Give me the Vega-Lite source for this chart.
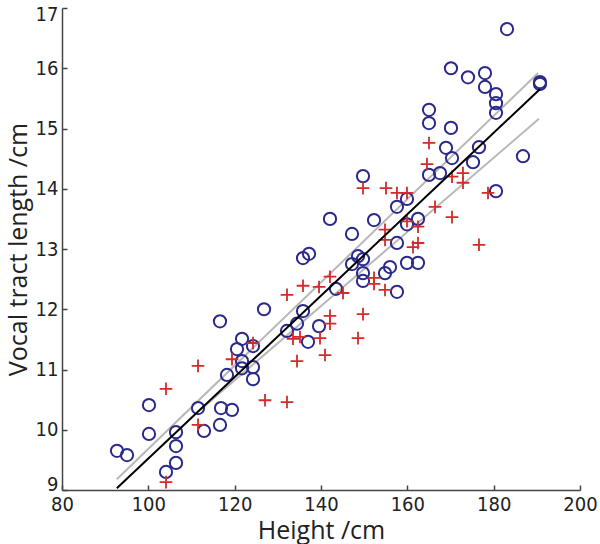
{
  "$schema": "https://vega.github.io/schema/vega-lite/v6.json",
  "width": 518,
  "height": 482,
  "autosize": {"type": "none"},
  "padding": {"left": 62, "top": 8, "right": 20, "bottom": 54},
  "background": "white",
  "config": {
    "view": {"stroke": null},
    "axis": {
      "grid": false,
      "domainColor": "#444",
      "domainWidth": 1.5,
      "tickColor": "#444",
      "tickWidth": 1.5,
      "labelFont": "Liberation Sans Narrow, DejaVu Sans Condensed, Open Sans",
      "labelFontSize": 20,
      "labelColor": "#222",
      "titleFont": "Open Sans",
      "titleFontSize": 25,
      "titleFontWeight": "normal",
      "titleColor": "#222",
      "labelFlush": false
    }
  },
  "datasets": {
    "pts": [
      {"h": 92.74, "v": 9.65, "g": "circle"},
      {"h": 95.06, "v": 9.58, "g": "circle"},
      {"h": 100.15, "v": 10.41, "g": "circle"},
      {"h": 100.15, "v": 9.93, "g": "circle"},
      {"h": 104.09, "v": 9.30, "g": "circle"},
      {"h": 106.41, "v": 9.45, "g": "circle"},
      {"h": 106.41, "v": 9.73, "g": "circle"},
      {"h": 106.41, "v": 9.96, "g": "circle"},
      {"h": 111.51, "v": 10.36, "g": "circle"},
      {"h": 112.90, "v": 9.98, "g": "circle"},
      {"h": 116.60, "v": 11.80, "g": "circle"},
      {"h": 116.60, "v": 10.08, "g": "circle"},
      {"h": 116.83, "v": 10.36, "g": "circle"},
      {"h": 119.38, "v": 10.33, "g": "circle"},
      {"h": 121.70, "v": 11.51, "g": "circle"},
      {"h": 120.54, "v": 11.34, "g": "circle"},
      {"h": 124.25, "v": 11.39, "g": "circle"},
      {"h": 121.70, "v": 11.14, "g": "circle"},
      {"h": 118.22, "v": 10.91, "g": "circle"},
      {"h": 121.70, "v": 11.02, "g": "circle"},
      {"h": 124.25, "v": 11.04, "g": "circle"},
      {"h": 124.25, "v": 10.84, "g": "circle"},
      {"h": 126.80, "v": 12.00, "g": "circle"},
      {"h": 135.83, "v": 11.97, "g": "circle"},
      {"h": 134.44, "v": 11.76, "g": "circle"},
      {"h": 132.12, "v": 11.64, "g": "circle"},
      {"h": 139.54, "v": 11.72, "g": "circle"},
      {"h": 136.99, "v": 11.46, "g": "circle"},
      {"h": 135.83, "v": 12.85, "g": "circle"},
      {"h": 137.22, "v": 12.92, "g": "circle"},
      {"h": 148.57, "v": 12.88, "g": "circle"},
      {"h": 147.18, "v": 12.75, "g": "circle"},
      {"h": 149.73, "v": 12.83, "g": "circle"},
      {"h": 149.73, "v": 12.60, "g": "circle"},
      {"h": 149.73, "v": 12.47, "g": "circle"},
      {"h": 154.83, "v": 12.60, "g": "circle"},
      {"h": 155.98, "v": 12.70, "g": "circle"},
      {"h": 159.92, "v": 12.77, "g": "circle"},
      {"h": 162.47, "v": 12.77, "g": "circle"},
      {"h": 143.47, "v": 12.34, "g": "circle"},
      {"h": 157.60, "v": 12.29, "g": "circle"},
      {"h": 142.08, "v": 13.50, "g": "circle"},
      {"h": 147.18, "v": 13.25, "g": "circle"},
      {"h": 149.73, "v": 14.21, "g": "circle"},
      {"h": 152.28, "v": 13.48, "g": "circle"},
      {"h": 157.60, "v": 13.70, "g": "circle"},
      {"h": 159.92, "v": 13.83, "g": "circle"},
      {"h": 159.92, "v": 13.41, "g": "circle"},
      {"h": 162.47, "v": 13.50, "g": "circle"},
      {"h": 157.60, "v": 13.10, "g": "circle"},
      {"h": 165.02, "v": 14.23, "g": "circle"},
      {"h": 167.57, "v": 14.26, "g": "circle"},
      {"h": 165.02, "v": 15.09, "g": "circle"},
      {"h": 165.02, "v": 15.31, "g": "circle"},
      {"h": 170.11, "v": 15.01, "g": "circle"},
      {"h": 168.96, "v": 14.68, "g": "circle"},
      {"h": 170.35, "v": 14.51, "g": "circle"},
      {"h": 176.60, "v": 14.69, "g": "circle"},
      {"h": 175.21, "v": 14.44, "g": "circle"},
      {"h": 186.79, "v": 14.54, "g": "circle"},
      {"h": 180.54, "v": 13.96, "g": "circle"},
      {"h": 170.11, "v": 16.00, "g": "circle"},
      {"h": 174.05, "v": 15.85, "g": "circle"},
      {"h": 177.99, "v": 15.92, "g": "circle"},
      {"h": 177.99, "v": 15.69, "g": "circle"},
      {"h": 180.54, "v": 15.57, "g": "circle"},
      {"h": 180.54, "v": 15.42, "g": "circle"},
      {"h": 180.54, "v": 15.26, "g": "circle"},
      {"h": 190.73, "v": 15.77, "g": "circle"},
      {"h": 190.73, "v": 15.74, "g": "circle"},
      {"h": 183.09, "v": 16.65, "g": "circle"},
      {"h": 104.09, "v": 10.68, "g": "cross"},
      {"h": 111.51, "v": 11.06, "g": "cross"},
      {"h": 119.38, "v": 11.17, "g": "cross"},
      {"h": 124.25, "v": 11.44, "g": "cross"},
      {"h": 111.51, "v": 10.08, "g": "cross"},
      {"h": 104.09, "v": 9.13, "g": "cross"},
      {"h": 127.03, "v": 10.49, "g": "cross"},
      {"h": 132.12, "v": 10.46, "g": "cross"},
      {"h": 132.12, "v": 12.24, "g": "cross"},
      {"h": 135.83, "v": 12.39, "g": "cross"},
      {"h": 139.54, "v": 12.37, "g": "cross"},
      {"h": 142.08, "v": 12.54, "g": "cross"},
      {"h": 145.10, "v": 12.27, "g": "cross"},
      {"h": 142.08, "v": 11.89, "g": "cross"},
      {"h": 142.08, "v": 11.76, "g": "cross"},
      {"h": 139.77, "v": 11.52, "g": "cross"},
      {"h": 135.13, "v": 11.54, "g": "cross"},
      {"h": 133.51, "v": 11.51, "g": "cross"},
      {"h": 140.93, "v": 11.24, "g": "cross"},
      {"h": 134.44, "v": 11.14, "g": "cross"},
      {"h": 148.57, "v": 11.52, "g": "cross"},
      {"h": 149.73, "v": 11.92, "g": "cross"},
      {"h": 152.28, "v": 12.52, "g": "cross"},
      {"h": 152.28, "v": 12.42, "g": "cross"},
      {"h": 154.83, "v": 12.32, "g": "cross"},
      {"h": 149.73, "v": 14.01, "g": "cross"},
      {"h": 155.06, "v": 14.01, "g": "cross"},
      {"h": 157.60, "v": 13.93, "g": "cross"},
      {"h": 159.92, "v": 13.93, "g": "cross"},
      {"h": 159.92, "v": 13.46, "g": "cross"},
      {"h": 154.83, "v": 13.32, "g": "cross"},
      {"h": 154.83, "v": 13.15, "g": "cross"},
      {"h": 162.47, "v": 13.37, "g": "cross"},
      {"h": 162.47, "v": 13.10, "g": "cross"},
      {"h": 161.31, "v": 13.03, "g": "cross"},
      {"h": 165.02, "v": 14.76, "g": "cross"},
      {"h": 164.55, "v": 14.41, "g": "cross"},
      {"h": 172.89, "v": 14.26, "g": "cross"},
      {"h": 170.35, "v": 14.20, "g": "cross"},
      {"h": 172.89, "v": 14.10, "g": "cross"},
      {"h": 178.69, "v": 13.93, "g": "cross"},
      {"h": 166.41, "v": 13.70, "g": "cross"},
      {"h": 170.35, "v": 13.53, "g": "cross"},
      {"h": 176.60, "v": 13.07, "g": "cross"}
    ],
    "lines": [
      {"h": 92.7, "v": 9.18, "line": "upper"},
      {"h": 190.3, "v": 15.92, "line": "upper"},
      {"h": 112.0, "v": 10.33, "line": "lower"},
      {"h": 190.5, "v": 15.16, "line": "lower"},
      {"h": 92.7, "v": 9.03, "line": "fit"},
      {"h": 190.7, "v": 15.65, "line": "fit"}
    ]
  },
  "layer": [
    {
      "data": {"name": "lines"},
      "transform": [{"filter": "datum.line !== 'fit'"}],
      "mark": {"type": "line", "color": "#b8b8b8", "strokeWidth": 2},
      "encoding": {
        "x": {"field": "h", "type": "quantitative", "scale": {"domain": [80, 200], "nice": false},
          "axis": {"title": "Height /cm", "values": [80, 100, 120, 140, 160, 180, 200], "format": "d", "tickSize": -5, "labelPadding": 9, "titlePadding": 4}},
        "y": {"field": "v", "type": "quantitative", "scale": {"domain": [9, 17], "nice": false, "zero": false},
          "axis": {"title": "Vocal tract length /cm", "values": [9, 10, 11, 12, 13, 14, 15, 16, 17], "format": "d", "tickSize": -5, "labelPadding": 9, "titlePadding": 4, "labelFlush": true, "labelFlushOffset": 4}},
        "detail": {"field": "line", "type": "nominal"}
      }
    },
    {
      "data": {"name": "pts"},
      "transform": [{"filter": "datum.g === 'circle'"}],
      "mark": {"type": "point", "shape": "circle", "filled": false, "stroke": "#2b2a8c", "strokeWidth": 2, "size": 150, "opacity": 1},
      "encoding": {
        "x": {"field": "h", "type": "quantitative"},
        "y": {"field": "v", "type": "quantitative"}
      }
    },
    {
      "data": {"name": "pts"},
      "transform": [{"filter": "datum.g === 'cross'"}],
      "mark": {"type": "point", "shape": "M-1,0L1,0M0,-1L0,1", "filled": false, "stroke": "#d42a2a", "strokeWidth": 1.8, "size": 160, "opacity": 1},
      "encoding": {
        "x": {"field": "h", "type": "quantitative"},
        "y": {"field": "v", "type": "quantitative"}
      }
    },
    {
      "data": {"name": "lines"},
      "transform": [{"filter": "datum.line === 'fit'"}],
      "mark": {"type": "line", "color": "#000000", "strokeWidth": 2},
      "encoding": {
        "x": {"field": "h", "type": "quantitative"},
        "y": {"field": "v", "type": "quantitative"}
      }
    }
  ]
}
